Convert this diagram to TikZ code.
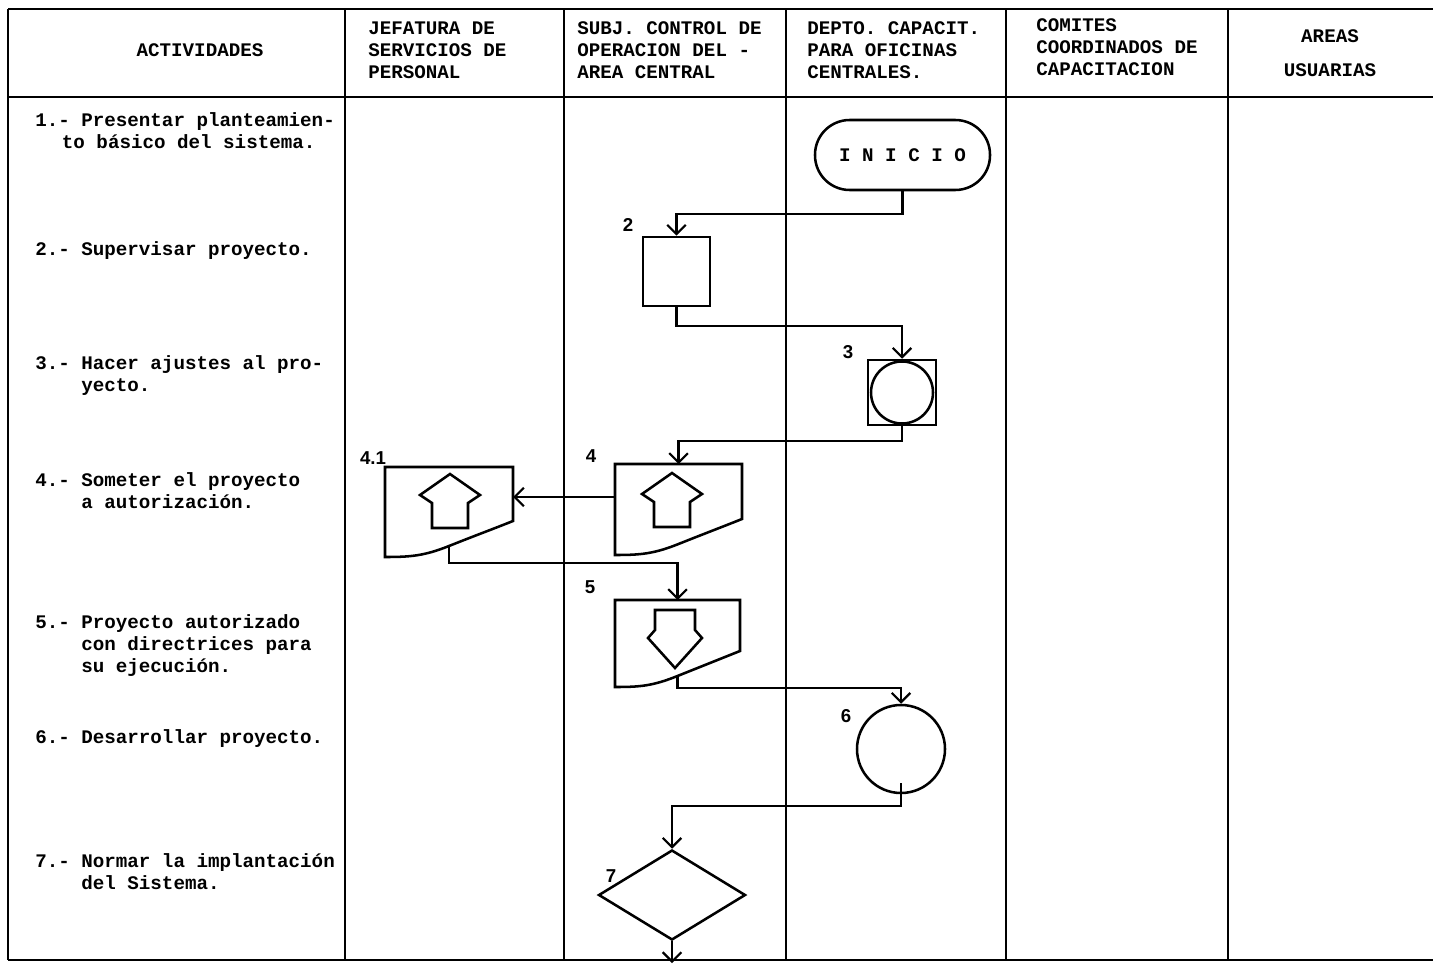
\documentclass[tikz,border=0pt]{standalone}
\usepackage{fontspec}
\setmonofont{Liberation Mono}
\newfontfamily\numfont{Liberation Sans}
\usetikzlibrary{arrows.meta,shapes.geometric,calc}

\newcommand{\pxu}{0.75pt}
\newcommand{\typew}{\ttfamily\bfseries\fontsize{14.4}{16.5}\selectfont}

% document symbol, drawn over a blank frame node
\newcommand{\docoutline}[1]{%
  \draw[shape line] (#1.north west) -- (#1.north east) -- ($(#1.south east)+(0,-36)$)
    .. controls +(-20,8) and +(25,-10) .. ($(#1.south)+(0,-11)$) coordinate (#1-out)
    .. controls +(-25,10) and +(25,0) .. (#1.south west) -- cycle;}

\tikzset{
  grid line/.style={line width=1.3pt},
  head line/.style={line width=2.2pt},
  shape line/.style={line width=1.9pt},
  flow/.style={line width=1.6pt, -{Straight Barb[length=7pt,width=14pt]}},
  head/.style={anchor=base, align=center, inner sep=0pt, font=\typew},
  headl/.style={anchor=base west, align=left, inner sep=0pt, font=\typew},
  act/.style={anchor=base west, align=left, inner sep=0pt, font=\typew},
  num/.style={inner sep=0pt, font=\numfont\bfseries\fontsize{14}{16}\selectfont},
  box/.style={draw, shape line, rectangle, inner sep=0pt},
  circ/.style={draw, shape line, circle, inner sep=0pt},
  frame/.style={rectangle, inner sep=0pt, outer sep=0pt},
  terminal/.style={draw, shape line, rectangle, rounded corners=26pt, inner sep=0pt,
    minimum width=175*\pxu, minimum height=70*\pxu, font=\typew},
  uphouse/.pic={\draw[shape line] (0,-27) -- (30,-6) -- (18,2) -- (18,27) -- (-18,27)
    -- (-18,2) -- (-30,-6) -- cycle;},
  downhouse/.pic={\draw[shape line] (-20,-28) -- (20,-28) -- (20,-8) -- (27,0) -- (0,30)
    -- (-27,0) -- (-20,-8) -- cycle;}
}

\begin{document}
\begin{tikzpicture}[x=0.75pt,y=-0.75pt]
  \useasboundingbox (0,0) rectangle (1433,970);

  % Table
  \draw[head line] (8,9) -- (1433,9);
  \draw[head line] (8,97) -- (1433,97);
  \draw[head line] (8,960) -- (1433,960);
  \foreach \cx in {8,345,564,786,1006,1228}
    \draw[grid line] (\cx,9) -- (\cx,960);

  % Column heads (base = last line)
  \node[head] (hact) at (200,57) {ACTIVIDADES};
  \node[headl] (hjef) at (368,79) {JEFATURA DE\\SERVICIOS DE\\PERSONAL};
  \node[headl] (hsub) at (577,79) {SUBJ. CONTROL DE\\OPERACION DEL -\\AREA CENTRAL};
  \node[headl] (hdep) at (807,79) {DEPTO. CAPACIT.\\PARA OFICINAS\\CENTRALES.};
  \node[headl] (hcom) at (1036,76) {COMITES\\COORDINADOS DE\\CAPACITACION};
  \node[head] (hare) at (1330,77) {AREAS\\[9pt]USUARIAS};

  % Activities (base = last line)
  \node[act] (a1) at (35,148) {1.- Presentar planteamien-\\\hspace*{20pt}to básico del sistema.};
  \node[act] (a2) at (35,255) {2.- Supervisar proyecto.};
  \node[act] (a3) at (35,391) {3.- Hacer ajustes al pro-\\\phantom{3.-~}yecto.};
  \node[act] (a4) at (35,508) {4.- Someter el proyecto\\\phantom{4.-~}a autorización.};
  \node[act] (a5) at (35,672) {5.- Proyecto autorizado\\\phantom{5.-~}con directrices para\\\phantom{5.-~}su ejecución.};
  \node[act] (a6) at (35,743) {6.- Desarrollar proyecto.};
  \node[act] (a7) at (35,889) {7.- Normar la implantación\\\phantom{7.-~}del Sistema.};

  % Flow symbols
  \node[terminal] (inicio) at (902.5,155) {I N I C I O};
  \node[box, minimum width=67*\pxu, minimum height=69*\pxu] (b2) at (676.5,271.5) {};
  \node[box, minimum width=68*\pxu, minimum height=65*\pxu] (b3) at (902,392.5) {};
  \node[circ, minimum size=62*\pxu] (c3) at (b3.center) {};
  \node[frame, minimum width=128*\pxu, minimum height=90*\pxu] (d41) at (449,512) {};
  \node[frame, minimum width=127*\pxu, minimum height=91*\pxu] (d4) at (678.5,509.5) {};
  \node[frame, minimum width=125*\pxu, minimum height=87*\pxu] (d5) at (677.5,643.5) {};
  \docoutline{d41}
  \docoutline{d4}
  \docoutline{d5}
  \pic at (450,501) {uphouse};
  \pic at (672,500) {uphouse};
  \pic at (675,638) {downhouse};
  \node[circ, minimum size=88*\pxu] (c6) at (901,749) {};
  \node[draw, shape line, diamond, inner sep=0pt, minimum width=147*\pxu,
    minimum height=90*\pxu] (d7) at (672,895) {};
  \coordinate (fin) at (672,963);

  % Step numbers
  \node[num] (n2) at (628,225) {2};
  \node[num] (n3) at (848,352) {3};
  \node[num] (n4) at (591,456) {4};
  \node[num] (n41) at (373,458) {4.1};
  \node[num] (n5) at (590,587) {5};
  \node[num] (n6) at (846,716) {6};
  \node[num] (n7) at (611,876) {7};

  % Connectors
  \draw[flow] (inicio.south) -- ++(0,23) -| (b2.north);
  \draw[flow] (b2.south) -- ++(0,19) -| (b3.north);
  \draw[flow] (b3.south) -- ++(0,15) -| (d4.north);
  \draw[flow] ($(d4.north west)+(0,33)$) -- ($(d41.north east)+(0,30)$);
  \draw[flow] (d41-out) -- ++(0,17) -| (d5.north);
  \draw[flow] (d5-out) -- ++(0,12) -| (c6.north);
  \draw[flow] ($(c6.south)+(0,-11)$) -- ++(0,23) -| (d7.north);
  \draw[flow] (d7.south) -- (fin);
\end{tikzpicture}
\end{document}
